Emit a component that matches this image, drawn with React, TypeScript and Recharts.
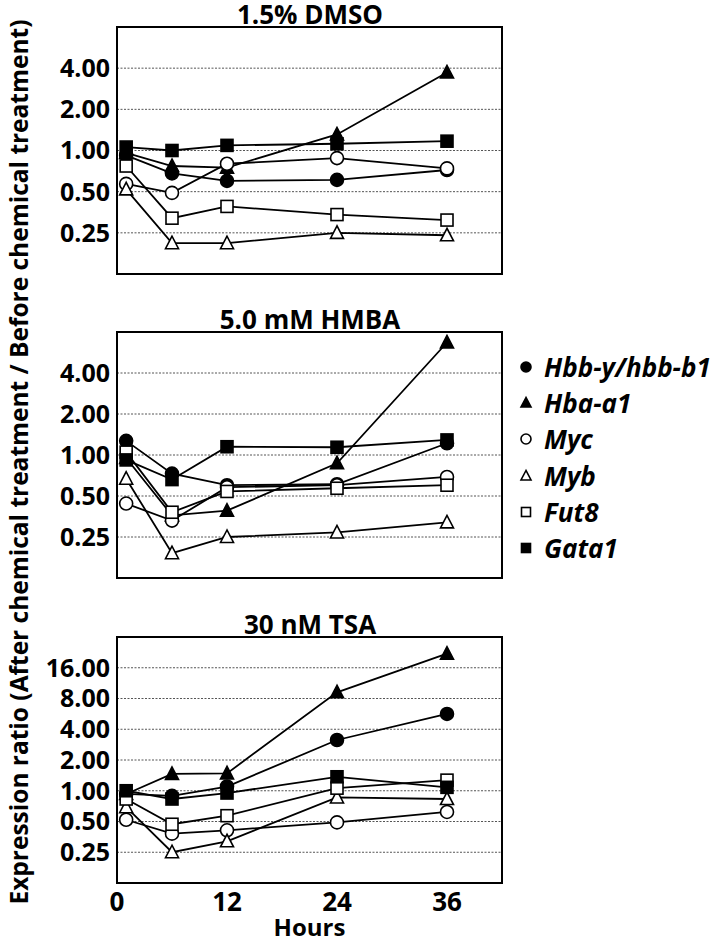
import React from 'react';
import { CartesianGrid, Line, LineChart, ReferenceArea, XAxis, YAxis } from 'recharts';

// hours after treatment
const HOURS = [1, 6, 12, 24, 36];

const GENES = ['Hbb-y/hbb-b1', 'Hba-a1', 'Myc', 'Myb', 'Fut8', 'Gata1'];
const SHAPES = ['circle', 'triangle', 'circle', 'triangle', 'square', 'square'];
const FILLED = [true, true, false, false, false, true];

// 1.5% DMSO
const DMSO_HBB = [0.92, 0.68, 0.6, 0.61, 0.72];
const DMSO_HBA = [0.96, 0.77, 0.75, 1.31, 3.72];
const DMSO_MYC = [0.57, 0.49, 0.8, 0.88, 0.74];
const DMSO_MYB = [0.52, 0.21, 0.21, 0.25, 0.24];
const DMSO_FUT8 = [0.77, 0.32, 0.39, 0.34, 0.31];
const DMSO_GATA1 = [1.06, 1.0, 1.09, 1.12, 1.17];

// 5.0 mM HMBA
const HMBA_HBB = [1.27, 0.73, 0.6, 0.61, 1.22];
const HMBA_HBA = [0.95, 0.36, 0.39, 0.87, 6.7];
const HMBA_MYC = [0.44, 0.33, 0.58, 0.6, 0.69];
const HMBA_MYB = [0.67, 0.19, 0.25, 0.27, 0.32];
const HMBA_FUT8 = [1.05, 0.38, 0.54, 0.57, 0.6];
const HMBA_GATA1 = [0.92, 0.66, 1.15, 1.14, 1.29];

// 30 nM TSA
const TSA_HBB = [0.93, 0.89, 1.1, 3.14, 5.65];
const TSA_HBA = [0.93, 1.46, 1.48, 9.2, 22];
const TSA_MYC = [0.52, 0.38, 0.41, 0.49, 0.62];
const TSA_MYB = [0.69, 0.25, 0.32, 0.86, 0.83];
const TSA_FUT8 = [0.83, 0.47, 0.57, 1.06, 1.27];
const TSA_GATA1 = [1.0, 0.83, 0.95, 1.37, 1.08];

const Y_TICKS_SMALL = [0.25, 0.5, 1, 2, 4];
const Y_TICKS_LARGE = [0.25, 0.5, 1, 2, 4, 8, 16];
const X_TICKS = [0, 6, 12, 18, 24, 30, 36, 42];
const X_LABELS = [0, 12, 24, 36];

const FONT = "'Open Sans', sans-serif";

const toRows = (series: number[][]) =>
  HOURS.map((h, i) => {
    const row: Record<string, number> = { hour: h };
    series.forEach((s, g) => {
      row[`g${g}`] = s[i];
    });
    return row;
  });

const dmsoRows = toRows([DMSO_HBB, DMSO_HBA, DMSO_MYC, DMSO_MYB, DMSO_FUT8, DMSO_GATA1]);
const hmbaRows = toRows([HMBA_HBB, HMBA_HBA, HMBA_MYC, HMBA_MYB, HMBA_FUT8, HMBA_GATA1]);
const tsaRows = toRows([TSA_HBB, TSA_HBA, TSA_MYC, TSA_MYB, TSA_FUT8, TSA_GATA1]);

function Marker({ cx, cy, shape, filled, size }: { cx: number; cy: number; shape: string; filled: boolean; size: number }) {
  const fill = filled ? '#000' : '#fff';
  const h = size / 2;
  if (shape === 'circle') {
    return <circle cx={cx} cy={cy} r={h} fill={fill} stroke="#000" strokeWidth={1.6} />;
  }
  if (shape === 'square') {
    return <rect x={cx - h + 0.5} y={cy - h + 0.5} width={size - 1} height={size - 1} fill={fill} stroke="#000" strokeWidth={1.6} />;
  }
  return (
    <polygon
      points={`${cx},${cy - h - 0.5} ${cx - h},${cy + h - 1} ${cx + h},${cy + h - 1}`}
      fill={fill}
      stroke="#000"
      strokeWidth={1.6}
    />
  );
}

const dotFor = (g: number) => (props: any) => {
  const { cx, cy, index } = props;
  if (cx == null || cy == null) return <g key={`d${g}-${index}`} />;
  return <Marker key={`d${g}-${index}`} cx={cx} cy={cy} shape={SHAPES[g]} filled={FILLED[g]} size={13} />;
};

function Panel({
  title,
  rows,
  yDomain,
  yTicks,
  top,
  height,
  marginTop,
  marginBottom,
  showHours,
}: {
  title: string;
  rows: Record<string, number>[];
  yDomain: [number, number];
  yTicks: number[];
  top: number;
  height: number;
  marginTop: number;
  marginBottom: number;
  showHours?: boolean;
}) {
  return (
    <div style={{ position: 'absolute', left: 0, top, width: 720, height }}>
      <div
        style={{
          position: 'absolute',
          left: 160,
          width: 300,
          top: marginTop - 25,
          textAlign: 'center',
          fontFamily: FONT,
          fontWeight: 700,
          fontSize: 26,
          lineHeight: '24px',
          color: '#000',
        }}
      >
        {title}
      </div>
      <LineChart width={720} height={height} data={rows} margin={{ top: marginTop, right: 218, bottom: marginBottom, left: 0 }}>
        <CartesianGrid vertical={false} stroke="#555" strokeDasharray="2 1.5" strokeWidth={1} />
        <XAxis
          dataKey="hour"
          type="number"
          domain={[0, 42]}
          ticks={X_TICKS}
          interval={0}
          mirror
          tick={false}
          tickSize={3}
          tickLine={{ stroke: '#000', strokeWidth: 1.5 }}
          axisLine={{ stroke: '#000', strokeWidth: 2 }}
        />
        {showHours && (
          <XAxis
            xAxisId="labels"
            dataKey="hour"
            type="number"
            domain={[0, 42]}
            ticks={X_LABELS}
            interval={0}
            height={55}
            axisLine={false}
            tickLine={false}
            tickSize={0}
            tickMargin={10}
            tick={{ fill: '#000', fontFamily: FONT, fontWeight: 700, fontSize: 26 }}
            label={{
              value: 'Hours',
              position: 'insideBottom',
              offset: 2,
              fill: '#000',
              fontFamily: FONT,
              fontWeight: 700,
              fontSize: 24,
            }}
          />
        )}
        <YAxis
          scale="log"
          type="number"
          domain={yDomain}
          ticks={yTicks}
          interval={0}
          allowDataOverflow
          width={117}
          tickSize={0}
          tickMargin={7}
          tickLine={false}
          axisLine={{ stroke: '#000', strokeWidth: 2 }}
          tickFormatter={(v: number) => v.toFixed(2)}
          tick={{ fill: '#000', fontFamily: FONT, fontWeight: 700, fontSize: 25 }}
        />
        <ReferenceArea x1={0} x2={42} y1={yDomain[0]} y2={yDomain[1]} fill="none" fillOpacity={0} stroke="#000" strokeWidth={2} />
        {GENES.map((name, g) => (
          <Line
            key={name}
            dataKey={`g${g}`}
            name={name}
            stroke="#000"
            strokeWidth={1.8}
            dot={dotFor(g)}
            activeDot={false}
            isAnimationActive={false}
          />
        ))}
      </LineChart>
    </div>
  );
}

function GeneLegend() {
  return (
    <div style={{ position: 'absolute', left: 516, top: 349 }}>
      {GENES.map((name, g) => (
        <div key={name} style={{ display: 'flex', alignItems: 'center', height: 36.2 }}>
          <svg width={20} height={20} style={{ marginRight: 8 }}>
            <Marker cx={10} cy={10} shape={SHAPES[g]} filled={FILLED[g]} size={10} />
          </svg>
          <span style={{ fontFamily: FONT, fontWeight: 700, fontStyle: 'italic', fontSize: 26, whiteSpace: 'nowrap', color: '#000' }}>
            {name}
          </span>
        </div>
      ))}
    </div>
  );
}

export default function App() {
  return (
    <div style={{ position: 'absolute', left: 0, top: 0, width: 720, height: 938, background: '#fff', overflow: 'hidden' }}>
      <svg width={40} height={938} style={{ position: 'absolute', left: 0, top: 0 }}>
        <text
          transform="translate(19, 462) rotate(-90)"
          textAnchor="middle"
          dy="0.35em"
          textLength={885}
          lengthAdjust="spacingAndGlyphs"
          fontFamily={FONT}
          fontWeight={700}
          fontSize={25}
          fill="#000"
        >
          Expression ratio (After chemical treatment / Before chemical treatment)
        </text>
      </svg>
      <Panel title="1.5% DMSO" rows={dmsoRows} yDomain={[0.125, 8]} yTicks={Y_TICKS_SMALL} top={0} height={290} marginTop={27} marginBottom={16} />
      <Panel title="5.0 mM HMBA" rows={hmbaRows} yDomain={[0.125, 8]} yTicks={Y_TICKS_SMALL} top={290} height={300} marginTop={42} marginBottom={12} />
      <Panel title="30 nM TSA" rows={tsaRows} yDomain={[0.125, 32]} yTicks={Y_TICKS_LARGE} top={600} height={338} marginTop={37} marginBottom={0} showHours />
      <GeneLegend />
    </div>
  );
}
